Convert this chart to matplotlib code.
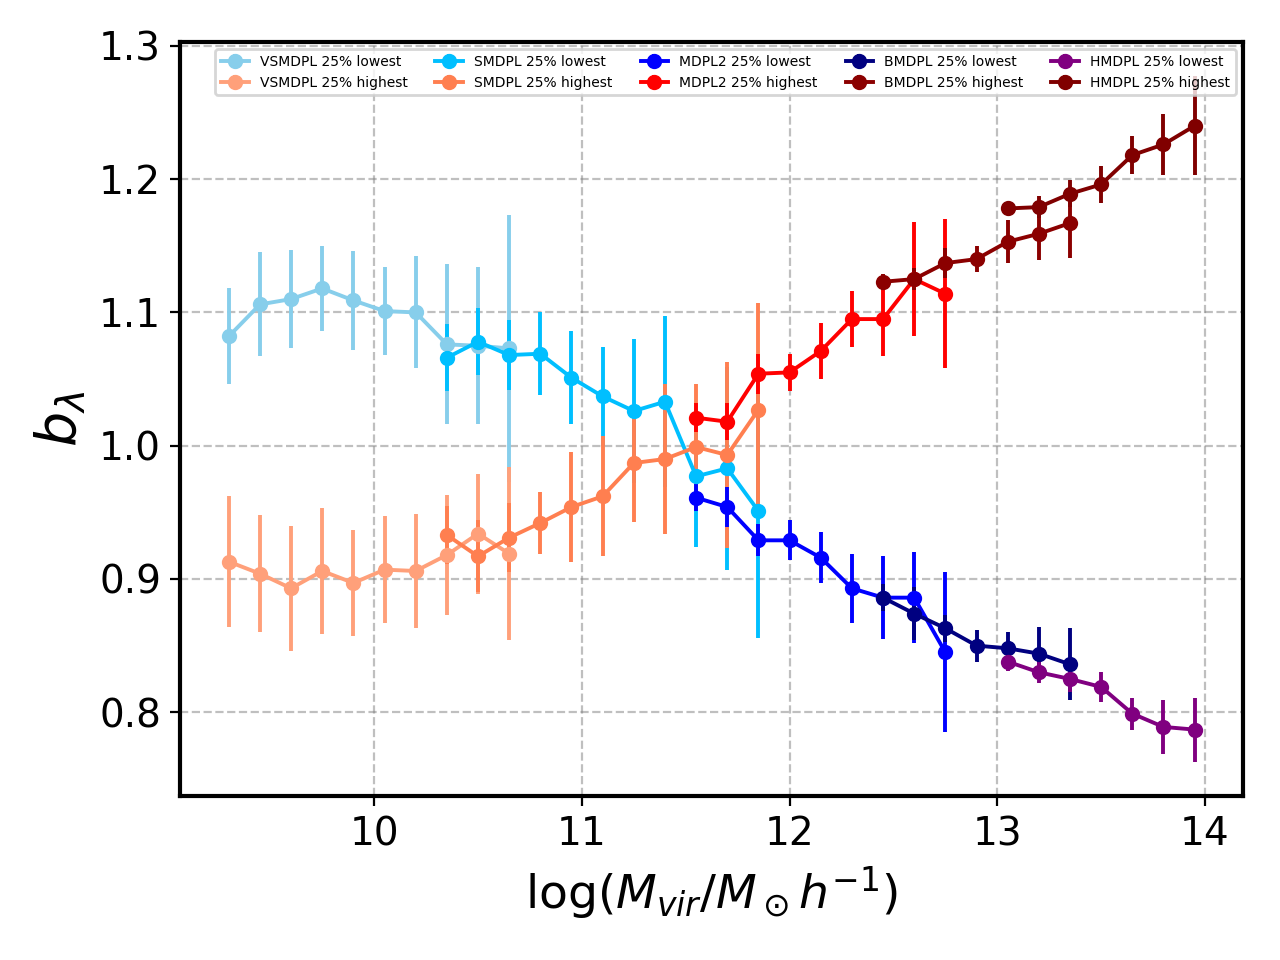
import numpy as np
import matplotlib
matplotlib.use("Agg")
import matplotlib.pyplot as plt

# --- mass bins (log Mvir) for each simulation ---
x_vsmdpl = [9.3, 9.45, 9.6, 9.75, 9.9, 10.05, 10.2, 10.35, 10.5, 10.65]
x_smdpl = [10.35, 10.5, 10.65, 10.8, 10.95, 11.1, 11.25, 11.4, 11.55, 11.7, 11.85]
x_mdpl2 = [11.55, 11.7, 11.85, 12.0, 12.15, 12.3, 12.45, 12.6, 12.75]
x_bmdpl = [12.45, 12.6, 12.75, 12.9, 13.05, 13.2, 13.35]
x_hmdpl = [13.05, 13.2, 13.35, 13.5, 13.65, 13.8, 13.95]

# --- b_lambda, 25% lowest / highest ---
vsmdpl_low = [1.082, 1.106, 1.110, 1.118, 1.109, 1.101, 1.100, 1.076, 1.075, 1.073]
vsmdpl_low_err = [0.036, 0.039, 0.037, 0.032, 0.037, 0.033, 0.042, 0.060, 0.059, 0.100]
vsmdpl_high = [0.913, 0.904, 0.893, 0.906, 0.897, 0.907, 0.906, 0.918, 0.934, 0.919]
vsmdpl_high_err = [0.049, 0.044, 0.047, 0.047, 0.040, 0.040, 0.043, 0.045, 0.045, 0.065]

smdpl_low = [1.066, 1.078, 1.068, 1.069, 1.051, 1.037, 1.026, 1.033, 0.977, 0.983, 0.951]
smdpl_low_err = [0.025, 0.025, 0.026, 0.031, 0.035, 0.037, 0.054, 0.064, 0.053, 0.076, 0.095]
smdpl_high = [0.933, 0.917, 0.931, 0.942, 0.954, 0.962, 0.987, 0.990, 0.999, 0.993, 1.027]
smdpl_high_err = [0.022, 0.027, 0.026, 0.023, 0.041, 0.045, 0.044, 0.056, 0.047, 0.070, 0.080]

mdpl2_low = [0.961, 0.954, 0.929, 0.929, 0.916, 0.893, 0.886, 0.886, 0.845]
mdpl2_low_err = [0.010, 0.015, 0.012, 0.015, 0.019, 0.026, 0.031, 0.034, 0.060]
mdpl2_high = [1.021, 1.018, 1.054, 1.055, 1.071, 1.095, 1.095, 1.125, 1.114]
mdpl2_high_err = [0.011, 0.014, 0.015, 0.014, 0.021, 0.021, 0.028, 0.043, 0.056]

bmdpl_low = [0.886, 0.874, 0.863, 0.850, 0.848, 0.844, 0.836]
bmdpl_low_err = [0.010, 0.020, 0.010, 0.012, 0.012, 0.020, 0.027]
bmdpl_high = [1.123, 1.125, 1.137, 1.140, 1.153, 1.159, 1.167]
bmdpl_high_err = [0.006, 0.008, 0.011, 0.010, 0.016, 0.020, 0.026]

hmdpl_low = [0.838, 0.830, 0.825, 0.819, 0.799, 0.789, 0.787]
hmdpl_low_err = [0.007, 0.008, 0.010, 0.011, 0.012, 0.020, 0.024]
hmdpl_high = [1.178, 1.179, 1.189, 1.196, 1.218, 1.226, 1.240]
hmdpl_high_err = [0.003, 0.008, 0.010, 0.014, 0.014, 0.023, 0.037]

sims = [
    ("VSMDPL", x_vsmdpl, vsmdpl_low, vsmdpl_low_err, vsmdpl_high, vsmdpl_high_err, "skyblue", "lightsalmon"),
    ("SMDPL", x_smdpl, smdpl_low, smdpl_low_err, smdpl_high, smdpl_high_err, "deepskyblue", "coral"),
    ("MDPL2", x_mdpl2, mdpl2_low, mdpl2_low_err, mdpl2_high, mdpl2_high_err, "blue", "red"),
    ("BMDPL", x_bmdpl, bmdpl_low, bmdpl_low_err, bmdpl_high, bmdpl_high_err, "navy", "darkred"),
    ("HMDPL", x_hmdpl, hmdpl_low, hmdpl_low_err, hmdpl_high, hmdpl_high_err, "purple", "maroon"),
]

fig, ax = plt.subplots(figsize=(6.4, 4.8), dpi=200)

for name, x, lo, lo_e, hi, hi_e, c_lo, c_hi in sims:
    ax.errorbar(x, lo, yerr=lo_e, fmt="o-", color=c_lo, ms=4.5, lw=1.4,
                label=f"{name} 25% lowest")
    ax.errorbar(x, hi, yerr=hi_e, fmt="o-", color=c_hi, ms=4.5, lw=1.4,
                label=f"{name} 25% highest")

ax.set_xlabel(r"$\log(M_{vir}/M_\odot h^{-1})$", fontsize=17)
ax.set_ylabel(r"$b_\lambda$", fontsize=20)
ax.tick_params(labelsize=14)
ax.grid(True, linestyle="--", color="gray", alpha=0.5)
for s in ax.spines.values():
    s.set_linewidth(1.5)
ax.legend(ncol=5, fontsize=5, loc="upper right")

plt.subplots_adjust(left=0.141, right=0.971, top=0.956, bottom=0.171)
plt.savefig("out.png")
